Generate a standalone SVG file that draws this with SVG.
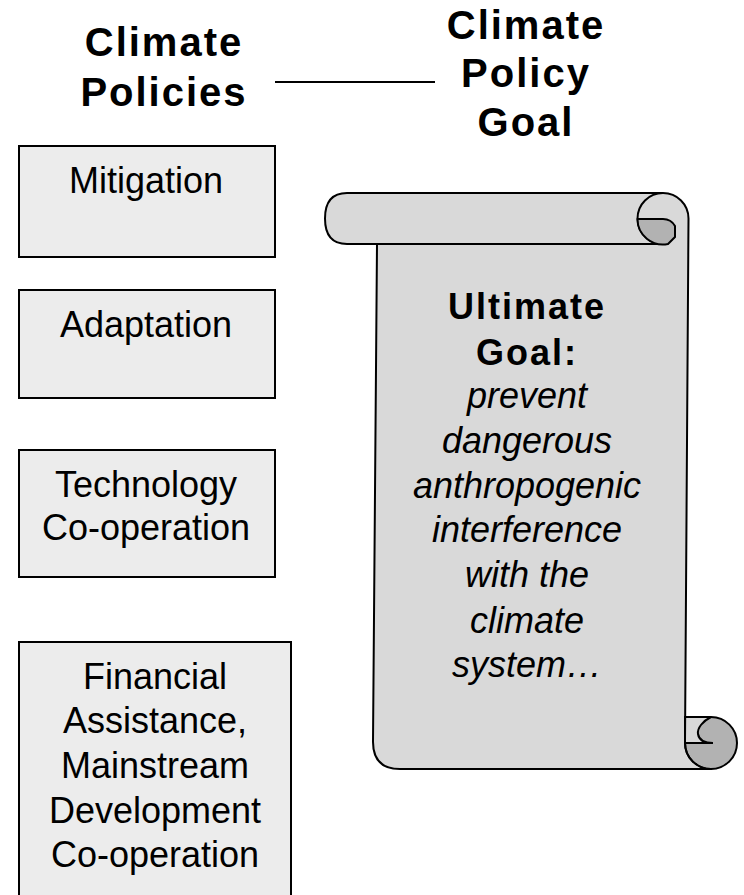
<svg xmlns="http://www.w3.org/2000/svg" width="744" height="895" viewBox="0 0 744 895">
<style>
.box{fill:#ececec;stroke:#000;stroke-width:2}
.t{font-family:"Liberation Sans",Arial,sans-serif;font-size:36px;fill:#000;text-anchor:middle}
.b{font-weight:bold;letter-spacing:2px}
.h{font-family:"Liberation Sans",Arial,sans-serif;font-size:40px;font-weight:bold;letter-spacing:2px;fill:#000;text-anchor:middle}
.i{font-style:italic}
.ln{fill:none;stroke:#000;stroke-width:2;stroke-linejoin:round}
.lt{fill:#d9d9d9}
.dk{fill:#b2b2b2;stroke:#000;stroke-width:2;stroke-linejoin:round}
</style>
<rect width="744" height="895" fill="#fff"/>
<g id="title-policies">
<text class="h" x="164" y="56">Climate</text>
<text class="h" x="164" y="106">Policies</text>
</g>
<g id="title-goal">
<text class="h" x="526" y="39">Climate</text>
<text class="h" x="526" y="87">Policy</text>
<text class="h" x="526" y="136">Goal</text>
</g>
<g id="connectors">
<line x1="275" y1="82" x2="435" y2="82" stroke="#000" stroke-width="2"/>
</g>
<g id="mitigation">
<rect class="box" x="19" y="146" width="256" height="111"/>
<text class="t" x="146" y="193">Mitigation</text>
</g>
<g id="adaptation">
<rect class="box" x="19" y="290" width="256" height="108"/>
<text class="t" x="146" y="337">Adaptation</text>
</g>
<g id="technology">
<rect class="box" x="19" y="450" width="256" height="127"/>
<text class="t" x="146" y="497">Technology</text>
<text class="t" x="146" y="540">Co-operation</text>
</g>
<g id="financial">
<rect class="box" x="19" y="642" width="272" height="260"/>
<text class="t" x="155" y="689">Financial</text>
<text class="t" x="155" y="733">Assistance,</text>
<text class="t" x="155" y="778">Mainstream</text>
<text class="t" x="155" y="823">Development</text>
<text class="t" x="155" y="867">Co-operation</text>
</g>
<g id="scroll">
<path class="lt" d="M377,244 L688,218 L685,743 A26 26 0 0 0 711,769 L400,769 Q373,769 373,742 Z"/>
<path class="lt" d="M347,193 L663,193 A25.5 25.5 0 0 1 688.5,218.5 L688,244 L347,244 Q325,244 325,218.5 Q325,193 347,193 Z"/>
<circle class="dk" cx="711" cy="743" r="26"/>
<path class="lt" d="M685,717 L711,717 C703,721 697,728 698,734 C699,740 705,743 713,743 L685,743 Z" stroke="#000" stroke-width="2"/>
<path class="ln" d="M663,244 L347,244 Q325,244 325,218.5 Q325,193 347,193 L663,193 A25.5 25.5 0 0 1 688.5,218.5 L685,743 A26 26 0 0 0 711,769 L400,769 Q373,769 373,742 L377,244"/>
<path class="ln" d="M663,193 A25.5 25.5 0 0 0 663,244"/>
<path class="dk" d="M637.5,219 L663,219 Q671,219 675,226 L675,237 L668,244 A25.5 25.5 0 0 1 637.5,219 Z"/>
<text class="t b" x="527" y="319">Ultimate</text>
<text class="t b" x="527" y="365">Goal:</text>
<text class="t i" x="527" y="408">prevent</text>
<text class="t i" x="527" y="453">dangerous</text>
<text class="t i" x="527" y="498">anthropogenic</text>
<text class="t i" x="527" y="542">interference</text>
<text class="t i" x="527" y="587">with the</text>
<text class="t i" x="527" y="633">climate</text>
<text class="t i" x="527" y="677">system…</text>
</g>
</svg>
